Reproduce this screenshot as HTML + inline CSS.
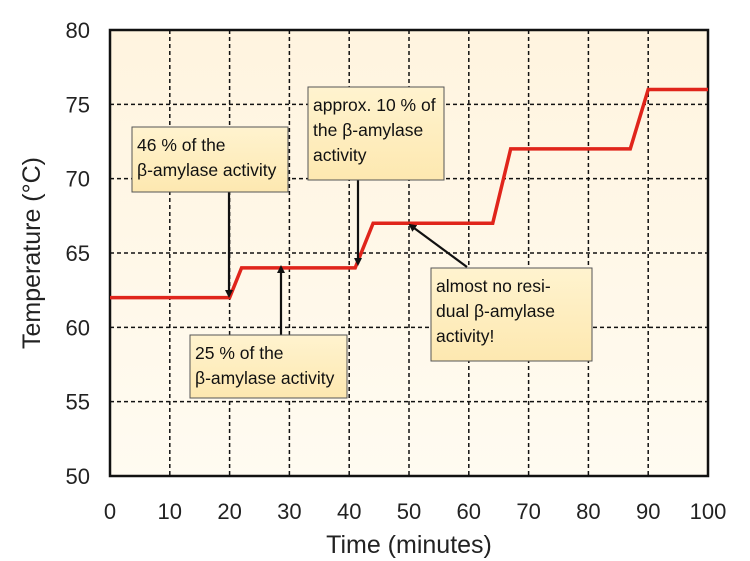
<!DOCTYPE html>
<html><head><meta charset="utf-8"><style>
body{margin:0;background:#fff;}
svg{display:block;font-family:"Liberation Sans","DejaVu Sans",sans-serif;}
</style></head><body>
<svg width="750" height="561">
<defs>
<linearGradient id="bg" x1="0" y1="0" x2="0" y2="1"><stop offset="0" stop-color="#fff4df"/><stop offset="1" stop-color="#fffbf1"/></linearGradient>
<linearGradient id="bx" x1="0" y1="0" x2="0" y2="1"><stop offset="0" stop-color="#fff3cf"/><stop offset="1" stop-color="#fde8b0"/></linearGradient>
<marker id="ah" markerWidth="8" markerHeight="8" refX="6" refY="4" orient="auto" markerUnits="userSpaceOnUse" viewBox="0 0 8 8"><path d="M0,0 L8,4 L0,8 Z" fill="#111"/></marker>
</defs>
<g id="chart"></g>
</svg>
<script>
const xTicks=[0,10,20,30,40,50,60,70,80,90,100];
const yTicks=[50,55,60,65,70,75,80];
const times=[0,20,22,41,44,64,67,87,90,100];
const temps=[62,62,64,64,67,67,72,72,76,76];
const L=110,R=708,T=30,B=476;
const xs=v=>L+(v-0)/100*(R-L);
const ys=v=>B-(v-50)/30*(B-T);
const NS="http://www.w3.org/2000/svg";
const g=document.getElementById('chart');
function mk(t,a,p){const e=document.createElementNS(NS,t);for(const k in a)e.setAttribute(k,a[k]);(p||g).appendChild(e);return e;}
const bg=mk('rect',{x:L,y:T,width:R-L,height:B-T,fill:'url(#bg)'});


xTicks.forEach(v=>{
 if(v>0&&v<100){const l=mk('line',{x1:xs(v),x2:xs(v),y1:T,y2:B,stroke:'#111','stroke-width':1.5,'stroke-dasharray':'4,3'});
 
 }
 const t=mk('text',{x:xs(v),y:519,'text-anchor':'middle','font-size':22,fill:'#222'});t.textContent=v;
 
 
});
yTicks.forEach(v=>{
 if(v>50&&v<80){const l=mk('line',{x1:L,x2:R,y1:ys(v),y2:ys(v),stroke:'#111','stroke-width':1.5,'stroke-dasharray':'4,3'});
 
 }
 const t=mk('text',{x:90,y:ys(v)+8,'text-anchor':'end','font-size':22,fill:'#222'});t.textContent=v;
 
 
});
const fr=mk('rect',{x:L,y:T,width:R-L,height:B-T,fill:'none',stroke:'#111','stroke-width':2.5});


const line=mk('polyline',{points:times.map((t,i)=>xs(t)+','+ys(temps[i])).join(' '),fill:'none',stroke:'#e0251b','stroke-width':3.5,'stroke-linejoin':'miter'});


const xt=mk('text',{x:409,y:553,'text-anchor':'middle','font-size':25,fill:'#222'});xt.textContent='Time (minutes)';


const yt=mk('text',{x:0,y:0,'text-anchor':'middle','font-size':25,fill:'#222',transform:'translate(40,253) rotate(-90)'});yt.textContent='Temperature (°C)';


function box(x,y,w,h,lines,name){
 const r=mk('rect',{x:x,y:y,width:w,height:h,fill:'url(#bx)',stroke:'#555','stroke-width':1});
 
 
 lines.forEach((s,i)=>{const t=mk('text',{x:x+5,y:y+24+i*25,'font-size':17.5,fill:'#111'});t.textContent=s;
 
 });
}
function arrow(x1,y1,x2,y2,name){const a=mk('line',{x1:x1,y1:y1,x2:x2,y2:y2,stroke:'#111','stroke-width':2.2,'marker-end':'url(#ah)'});
 
 }
arrow(229,192,229,296,'arrow-46');
box(132,127,156,65,['46 % of the','β-amylase activity'],'annotation-46');
arrow(358,180,358,264,'arrow-10');
box(308,87,136,93,['approx. 10 % of','the β-amylase','activity'],'annotation-10');
arrow(467,267,410,225,'arrow-none');
box(431,268,161,93,['almost no resi-','dual β-amylase','activity!'],'annotation-none');
arrow(281,335,281,267,'arrow-25');
box(190,335,157,63,['25 % of the','β-amylase activity'],'annotation-25');
</script>
</body></html>
